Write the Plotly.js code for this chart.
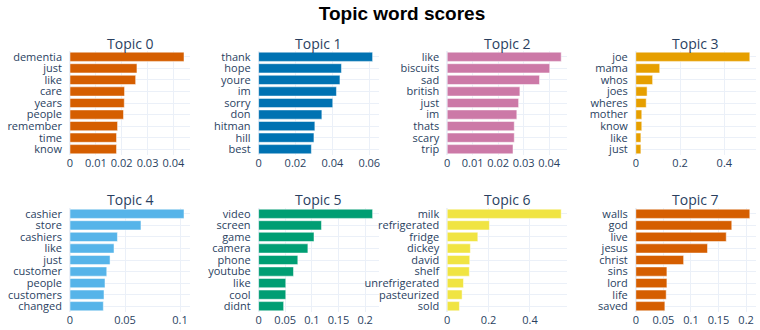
<!DOCTYPE html>
<html>
<head>
<meta charset="utf-8">
<script src="https://cdn.plot.ly/plotly-3.0.1.min.js"></script>
<style>html,body{margin:0;padding:0;background:#fff;}#chart{width:760px;height:330px;}</style>
</head>
<body>
<div id="chart"></div>
<script>
const chartTitle = "Topic word scores";
const topicNames = ["Topic 0","Topic 1","Topic 2","Topic 3","Topic 4","Topic 5","Topic 6","Topic 7"];

const words0 = ["dementia","just","like","care","years","people","remember","time","know"];
const scores0 = [0.0441,0.0259,0.0254,0.0211,0.0210,0.0207,0.0184,0.0180,0.0180];
const words1 = ["thank","hope","youre","im","sorry","don","hitman","hill","best"];
const scores1 = [0.0618,0.0449,0.0441,0.0422,0.0402,0.0343,0.0305,0.0300,0.0286];
const words2 = ["like","biscuits","sad","british","just","im","thats","scary","trip"];
const scores2 = [0.0447,0.0402,0.0362,0.0285,0.0280,0.0273,0.0263,0.0263,0.0258];
const words3 = ["joe","mama","whos","joes","wheres","mother","know","like","just"];
const scores3 = [0.515,0.108,0.076,0.051,0.047,0.027,0.027,0.023,0.023];
const words4 = ["cashier","store","cashiers","like","just","customer","people","customers","changed"];
const scores4 = [0.1036,0.0645,0.0431,0.0400,0.0364,0.0334,0.0318,0.0309,0.0303];
const words5 = ["video","screen","game","camera","phone","youtube","like","cool","didnt"];
const scores5 = [0.214,0.118,0.104,0.0925,0.0736,0.0655,0.051,0.051,0.047];
const words6 = ["milk","refrigerated","fridge","dickey","david","shelf","unrefrigerated","pasteurized","sold"];
const scores6 = [0.551,0.204,0.148,0.112,0.109,0.107,0.0786,0.072,0.059];
const words7 = ["walls","god","live","jesus","christ","sins","lord","life","saved"];
const scores7 = [0.2067,0.174,0.164,0.130,0.0867,0.0564,0.0564,0.0551,0.0527];

const colors = ["#D55E00","#0072B2","#CC79A7","#E69F00","#56B4E9","#009E73","#F0E442","#D55E00"];
const xDticks = [0.01,0.02,0.01,0.2,0.05,0.05,0.2,0.05];

const allWords = [words0,words1,words2,words3,words4,words5,words6,words7];
const allScores = [scores0,scores1,scores2,scores3,scores4,scores5,scores6,scores7];

const W = 760, H = 330;
const colLeft = [70, 258.6, 447.2, 635.8];
const colWidth = 120;
const rowTop = [51, 208];
const rowHeight = 104;
const titleCenterY = [44, 199.5];

const textColor = "#2a3f5f";
const gridColor = "#EBF0F8";

const data = [];
const layout = {
  width: W, height: H,
  margin: {l:0, r:0, t:0, b:0},
  paper_bgcolor: "#fff", plot_bgcolor: "#fff",
  showlegend: false,
  font: {family: "Open Sans, sans-serif", size: 11, color: textColor},
  bargap: 0.2,
  title: {text: "<b>" + chartTitle + "</b>", x: 402/W, xanchor: "center", xref: "paper",
          y: 1 - 13/H, yanchor: "middle", yref: "paper",
          font: {family: "Liberation Sans, Arial, sans-serif", size: 19, color: "black"}},
  annotations: []
};

for (let i = 0; i < 8; i++) {
  const r = Math.floor(i / 4), c = i % 4;
  const sfx = i === 0 ? "" : String(i + 1);
  data.push({
    type: "bar", orientation: "h",
    x: allScores[i], y: allWords[i],
    xaxis: "x" + sfx, yaxis: "y" + sfx,
    marker: {color: colors[i], line: {color: "white", width: 0.5}},
    hoverinfo: "x+y"
  });
  const x0 = colLeft[c] / W, x1 = (colLeft[c] + colWidth) / W;
  const yTopPx = rowTop[r], yBotPx = rowTop[r] + rowHeight;
  layout["xaxis" + sfx] = {
    domain: [x0, x1], anchor: "y" + sfx,
    showgrid: true, gridcolor: gridColor, gridwidth: 1,
    zeroline: true, zerolinecolor: gridColor, zerolinewidth: 2,
    showline: false, ticks: "", dtick: xDticks[i], tick0: 0,
    tickangle: 0,
    tickfont: {size: 11, color: textColor},
    rangemode: "tozero"
  };
  layout["yaxis" + sfx] = {
    domain: [1 - yBotPx / H, 1 - yTopPx / H], anchor: "x" + sfx,
    type: "category", autorange: "reversed",
    tickmode: "array", tickvals: allWords[i], ticktext: allWords[i],
    showgrid: true, gridcolor: gridColor, gridwidth: 1,
    showline: false, ticks: "", ticklabelstandoff: 7,
    tickfont: {size: 11, color: textColor}
  };
  layout.annotations.push({
    text: topicNames[i], showarrow: false,
    xref: "paper", yref: "paper",
    x: (colLeft[c] + colWidth / 2) / W, xanchor: "center",
    y: 1 - titleCenterY[r] / H, yanchor: "middle",
    font: {size: 14, color: textColor}
  });
}

Plotly.newPlot("chart", data, layout, {displayModeBar: false, staticPlot: true});
</script>
</body>
</html>
